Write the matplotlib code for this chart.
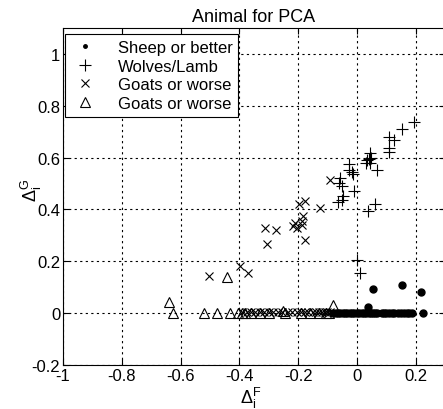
import matplotlib
matplotlib.use("Agg")
import matplotlib.pyplot as plt

plt.rcParams['font.family'] = ['Liberation Sans', 'DejaVu Sans']
plt.rcParams['mathtext.fontset'] = 'custom'
plt.rcParams['mathtext.rm'] = 'Liberation Sans'
plt.rcParams['mathtext.it'] = 'Liberation Sans'
plt.rcParams['mathtext.bf'] = 'Liberation Sans:bold'

# Sheep or better (dots)
sheep_x = [0.056, 0.152, 0.217, 0.039, 0.226,
           -0.080, -0.072, -0.064, -0.056, -0.048, -0.040, -0.032, -0.024, -0.016, -0.008,
           0.000, 0.008, 0.016, 0.024, 0.032, 0.040, 0.048, 0.056, 0.062, 0.067,
           0.084, 0.092, 0.100, 0.108, 0.118, 0.128, 0.140, 0.150, 0.160, 0.170, 0.178, 0.186]
sheep_y = [0.092, 0.108, 0.083, 0.025, 0.000,
           0.0, 0.0, 0.0, 0.0, 0.0, 0.0, 0.0, 0.0, 0.0, 0.0,
           0.0, 0.0, 0.0, 0.0, 0.0, 0.0, 0.0, 0.0, 0.0, 0.0,
           0.0, 0.0, 0.0, 0.0, 0.0, 0.0, 0.0, 0.0, 0.0, 0.0, 0.0, 0.0]

# Wolves/Lamb (plus)
wolves_x = [0.195, 0.154, 0.110, 0.127, 0.110, 0.110, 0.044, 0.041, 0.044, 0.031, 0.067,
            -0.027, -0.026, -0.013, -0.018, -0.058, -0.060, -0.052, -0.010, -0.047, -0.052,
            -0.064, 0.061, 0.038, 0.002, 0.010, 0.048, 0.035]
wolves_y = [0.738, 0.712, 0.681, 0.668, 0.638, 0.621, 0.619, 0.593, 0.580, 0.578, 0.554,
            0.574, 0.554, 0.535, 0.545, 0.522, 0.503, 0.490, 0.470, 0.451, 0.438,
            0.428, 0.421, 0.393, 0.205, 0.156, 0.600, 0.590]

# Goats or worse (cross)
goats_x = [-0.092, -0.126, -0.175, -0.197, -0.182, -0.188, -0.211, -0.217, -0.205, -0.185,
           -0.313, -0.276, -0.305, -0.175, -0.502, -0.396, -0.370,
           -0.390, -0.375, -0.360, -0.345, -0.330, -0.315, -0.300, -0.285, -0.270, -0.255,
           -0.235, -0.220, -0.205, -0.190, -0.175, -0.165, -0.150, -0.140, -0.130, -0.120,
           -0.110, -0.100, -0.090]
goats_y = [0.512, 0.406, 0.432, 0.421, 0.373, 0.354, 0.348, 0.335, 0.328, 0.340,
           0.328, 0.322, 0.266, 0.283, 0.143, 0.182, 0.154,
           0.004, 0.006, 0.003, 0.005, 0.004, 0.006, 0.003, 0.005, 0.004, 0.006,
           0.005, 0.003, 0.006, 0.004, 0.005, 0.003, 0.006, 0.004, 0.005, 0.003,
           0.006, 0.004, 0.005]

# Goats or worse (triangle)
tri_x = [-0.638, -0.625, -0.443, -0.080, -0.520, -0.477, -0.432, -0.404, -0.392, -0.380,
         -0.360, -0.330, -0.300, -0.250, -0.245, -0.190, -0.160, -0.130, -0.105, -0.095]
tri_y = [0.044, 0.000, 0.141, 0.031, 0.000, 0.000, 0.000, 0.000, 0.000, 0.000,
         0.000, 0.000, 0.000, 0.010, 0.000, 0.000, 0.000, 0.000, 0.000, 0.000]

labels = ['Sheep or better', 'Wolves/Lamb', 'Goats or worse', 'Goats or worse']
x_ticks = [-1, -0.8, -0.6, -0.4, -0.2, 0, 0.2]
x_ticklabels = ['-1', '-0.8', '-0.6', '-0.4', '-0.2', '0', '0.2']
y_ticks = [-0.2, 0, 0.2, 0.4, 0.6, 0.8, 1]
y_ticklabels = ['-0.2', '0', '0.2', '0.4', '0.6', '0.8', '1']

W, H = 443, 410
fig = plt.figure(figsize=(W / 100, H / 100), dpi=100)
ax = fig.add_axes([63 / W, 1 - 366 / H, (445 - 63) / W, (366 - 29) / H])

fs = 12
ax.plot(sheep_x, sheep_y, linestyle='none', marker='.', markersize=10, color='black', label=labels[0])
ax.plot(wolves_x, wolves_y, linestyle='none', marker='+', markersize=9, markeredgewidth=0.8,
        color='black', label=labels[1])
ax.plot(goats_x, goats_y, linestyle='none', marker='x', markersize=6, markeredgewidth=0.8,
        color='black', label=labels[2])
ax.plot(tri_x, tri_y, linestyle='none', marker='^', markersize=7, markeredgewidth=0.8,
        markerfacecolor='none', color='black', label=labels[3])

ax.set_xlim(-1, 0.3)
ax.set_ylim(-0.2, 1.1)
ax.set_xticks(x_ticks)
ax.set_xticklabels(x_ticklabels, fontsize=fs)
ax.set_yticks(y_ticks)
ax.set_yticklabels(y_ticklabels, fontsize=fs)
ax.tick_params(direction='in', top=True, right=True, length=4, width=0.8, pad=2)
ax.grid(True, linestyle=(0, (2, 3)), color='black', linewidth=0.8)
for s in ax.spines.values():
    s.set_linewidth(0.8)

ax.set_title('Animal for PCA', fontsize=13, pad=5)
ax.set_xlabel(r'$\Delta_i^F$', fontsize=fs + 1)
ax.xaxis.set_label_coords(0.49, -0.06)
ax.set_ylabel(r'$\Delta_i^G$', fontsize=fs + 1)
ax.yaxis.set_label_coords(-0.05, 0.52)

leg = ax.legend(loc='upper left', bbox_to_anchor=(65 / W, 1 - 35 / H), bbox_transform=fig.transFigure,
                borderaxespad=0, fontsize=fs, fancybox=False, framealpha=1, edgecolor='black',
                handlelength=1.7, handletextpad=1.1, labelspacing=0.22, borderpad=0.35, numpoints=1)
leg.get_frame().set_linewidth(0.8)
leg.legend_handles[0].set_markersize(5)

fig.savefig('out.png', dpi=100)
